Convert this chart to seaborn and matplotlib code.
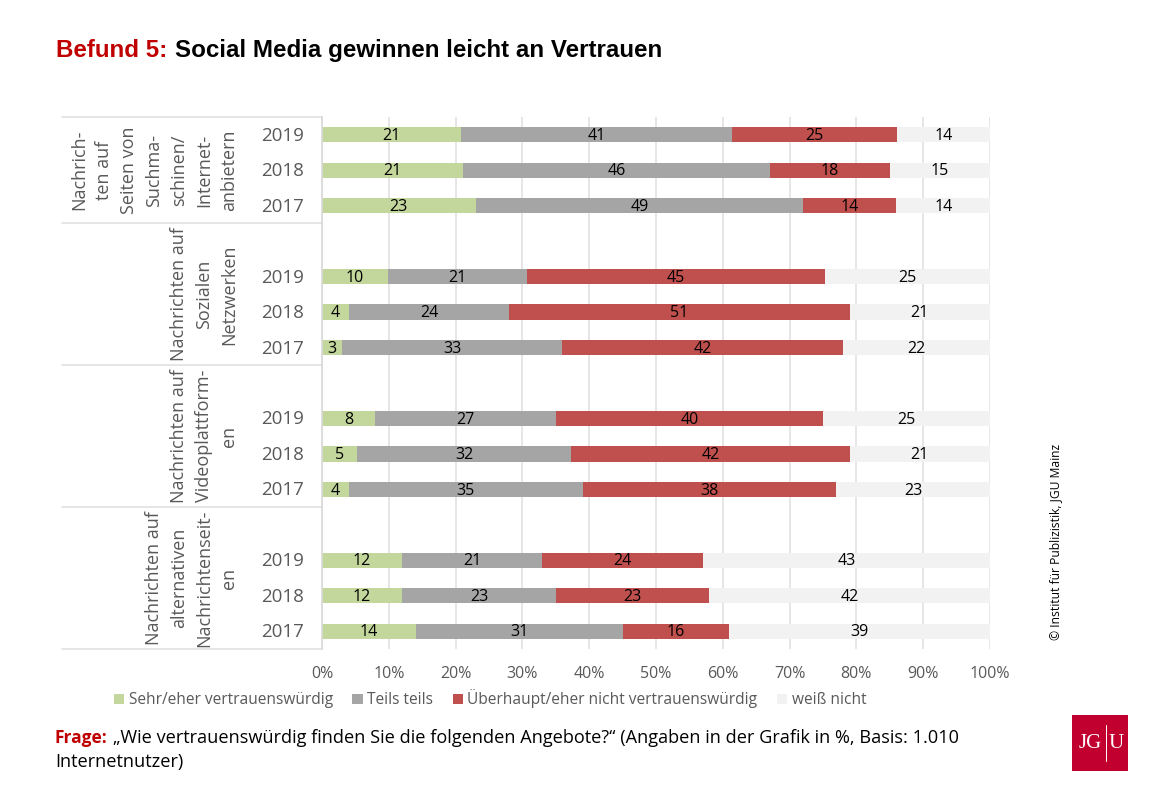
import matplotlib
matplotlib.use("Agg")
import matplotlib.pyplot as plt
import matplotlib.patches as mpatches
from matplotlib.transforms import blended_transform_factory, ScaledTranslation
import pandas as pd
import seaborn as sns

W, H = 1157, 802
FONT = "Open Sans"
TITLE_FONT = "Liberation Sans"

groups = [
    "Nachrich-\nten auf\nSeiten von\nSuchma-\nschinen/\nInternet-\nanbietern",
    "Nachrichten auf\nSozialen\nNetzwerken",
    "Nachrichten auf\nVideoplattform-\nen",
    "Nachrichten auf\nalternativen\nNachrichtenseit-\nen",
]
years = ["2019", "2018", "2017"]
series = ["Sehr/eher vertrauenswürdig", "Teils teils",
          "Überhaupt/eher nicht vertrauenswürdig", "weiß nicht"]
colors = ["#c3d69b", "#a5a5a5", "#c0504d", "#f2f2f2"]

sehr = [20.8, 21.1, 23.0, 9.9, 4.0, 3.0, 8.0, 5.2, 4.0, 12.0, 12.0, 14.0]
teils = [40.6, 46.0, 49.0, 20.8, 24.0, 33.0, 27.0, 32.1, 35.0, 21.0, 23.0, 31.0]
nicht = [24.7, 17.9, 14.0, 44.6, 51.0, 42.0, 40.0, 41.7, 38.0, 24.0, 23.0, 16.0]
weiss = [13.9, 15.0, 14.0, 24.7, 21.0, 22.0, 25.0, 21.0, 23.0, 43.0, 42.0, 39.0]
values = [sehr, teils, nicht, weiss]

# 15 rows: group 1 has 3 rows, other groups one blank row + 3 rows
order, ticklabels, row_ids = [], [], []
for g in range(4):
    if g > 0:
        order.append(f"blank{g}")
        ticklabels.append("")
    for y in years:
        rid = f"{g}-{y}"
        order.append(rid)
        row_ids.append(rid)
        ticklabels.append(y)

sns.set_theme(style="white")
plt.rcParams["font.family"] = [FONT, "DejaVu Sans"]

fig = plt.figure(figsize=(W / 100, H / 100), dpi=100)
ax = fig.add_axes([322 / W, 1 - 649 / H, (990 - 322) / W, (649 - 117) / H])

left = [0.0] * len(row_ids)
for name, col, vals in zip(series, colors, values):
    df = pd.DataFrame({"row": row_ids, "value": vals, "start": left})
    n_before = len(ax.containers)
    sns.barplot(data=df, y="row", x="value", order=order, color=col, width=0.43,
                left=df["start"].to_numpy(), saturation=1, errorbar=None,
                label=name, ax=ax, zorder=3, linewidth=0)
    cont = ax.containers[n_before]
    texts = ax.bar_label(cont, labels=[f"{v:.0f}" for v in vals], label_type="center",
                         fontsize=11.5, color="black", zorder=5)
    for t in texts:
        t.xyann = (0, -0.8)
    left = [a + b for a, b in zip(left, vals)]

ax.set_xlim(0, 100)
ax.set_ylim(len(order) - 0.5, -0.5)
ax.set_xlabel("")
ax.set_ylabel("")
ax.set_xticks(range(0, 101, 10))
ax.set_xticklabels([f"{t}%" for t in range(0, 101, 10)], fontsize=11.5, color="#595959")
ax.set_yticks(range(len(order)))
ax.set_yticklabels(ticklabels, fontsize=13.5, color="#595959")
ax.tick_params(axis="x", length=0, pad=12.5)
ax.tick_params(axis="y", length=0, pad=13)
up = ScaledTranslation(0, 1 / 100, fig.dpi_scale_trans)
for lab in ax.get_yticklabels():
    lab.set_transform(lab.get_transform() + up)
ax.grid(axis="x", color="#e2e2e2", linewidth=1.2, zorder=0)
ax.set_axisbelow(True)
for s in ["top", "right", "bottom"]:
    ax.spines[s].set_visible(False)
ax.spines["left"].set_color("#d9d9d9")
ax.spines["left"].set_linewidth(1.2)
ax.spines["left"].set_zorder(6)

# group separators and labels
tr = blended_transform_factory(fig.transFigure, ax.transData)
bounds = [-0.5, 2.5, 6.5, 10.5, 14.5]
for b in bounds:
    ax.plot([62 / W, 322 / W], [b, b], transform=tr, color="#dedede", lw=1.1, clip_on=False)
for g, label in enumerate(groups):
    mid = (bounds[g] + bounds[g + 1]) / 2
    ax.text(238 / W, mid, label, transform=tr, rotation=90, ha="right", va="center",
            multialignment="center", fontsize=13, color="#595959", linespacing=1.5)

# legend
h, l = ax.get_legend_handles_labels()
leg = fig.legend(h[:4], l[:4], ncol=4, frameon=False, fontsize=11.2,
                 loc="center left", bbox_to_anchor=(114 / W, 1 - 699 / H),
                 handlelength=0.65, handleheight=0.65, handletextpad=0.3, columnspacing=1.25,
                 labelcolor="#595959", borderpad=0, borderaxespad=0)
if ax.get_legend():
    ax.get_legend().remove()

# title
TS = 17.4
fig.text(56 / W, 1 - 57 / H, "Befund 5:", color="#c00000", fontsize=TS, fontweight="bold",
         family=TITLE_FONT, va="baseline", ha="left")
fig.text(175 / W, 1 - 57 / H, "Social Media gewinnen leicht an Vertrauen", color="black",
         fontsize=TS, fontweight="bold", family=TITLE_FONT, va="baseline", ha="left")

# question
fig.text(55 / W, 1 - 743 / H, "Frage:", color="#c00000", fontsize=12.5, fontweight="bold",
         va="baseline", ha="left")
fig.text(113 / W, 1 - 743 / H,
         "„Wie vertrauenswürdig finden Sie die folgenden Angebote?“ (Angaben in der Grafik in %, Basis: 1.010",
         color="black", fontsize=13.1, va="baseline", ha="left")
fig.text(55 / W, 1 - 767 / H, "Internetnutzer)", color="black", fontsize=13.1, va="baseline", ha="left")

# copyright
fig.text(1056 / W, 1 - 640 / H, "© Institut für Publizistik, JGU Mainz", rotation=90, color="black",
         fontsize=8.7, va="bottom", ha="center")

# logo
fig.add_artist(mpatches.Rectangle((1072 / W, 1 - 771 / H), 56 / W, 56 / H,
                                  transform=fig.transFigure, color="#c1002f", lw=0))
fig.text(1090 / W, 1 - 744 / H, "JG", color="white", family="Liberation Serif", fontsize=15,
         va="center", ha="center")
fig.text(1116 / W, 1 - 744 / H, "U", color="white", family="Liberation Serif", fontsize=15,
         va="center", ha="center")
fig.add_artist(plt.Line2D([1106 / W, 1106 / W], [1 - 725 / H, 1 - 761 / H],
                          transform=fig.transFigure, color="white", lw=0.7))

fig.savefig("out.png", dpi=100, facecolor="white")
